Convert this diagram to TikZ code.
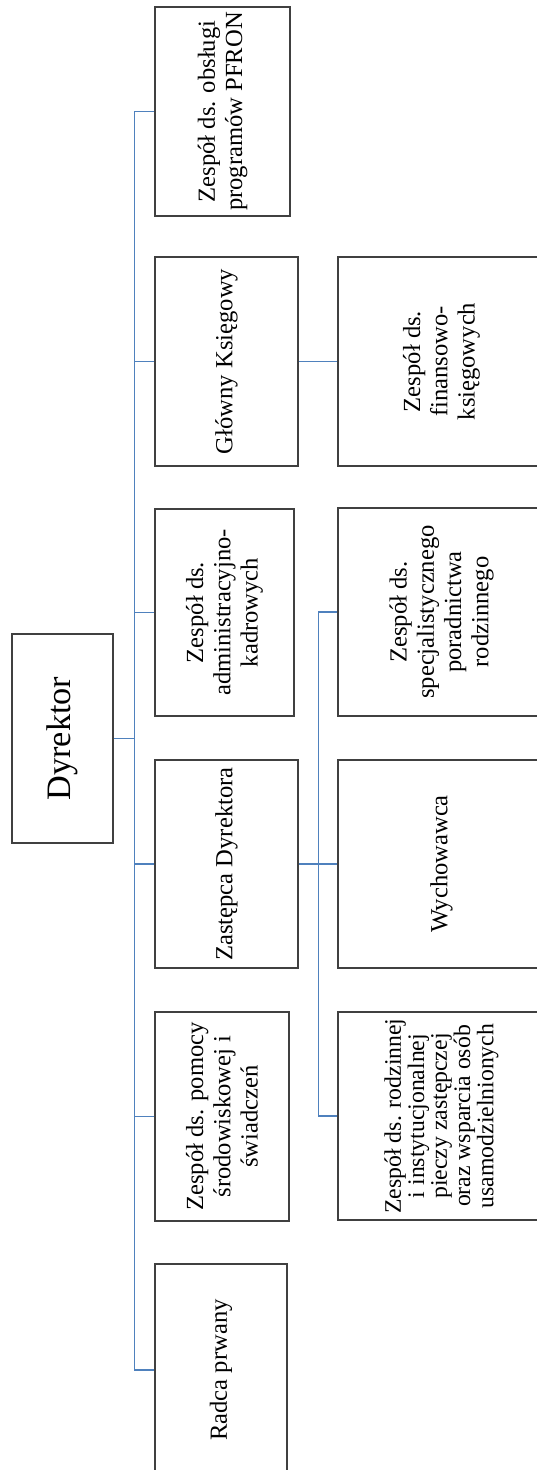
\documentclass[tikz,border=0pt]{standalone}
\usepackage{fontspec}
\setmainfont{Liberation Serif}
\usepackage{xcolor}
\definecolor{linkblue}{RGB}{79,129,189}

\begin{document}
\begin{tikzpicture}[x=0.02cm, y=-0.02cm]
    \tikzset{
      unit/.style={draw=black!75, line width=0.8pt, rotate=90, inner sep=0pt,
        align=center, font=\fontsize{14}{15.5}\selectfont},
      link/.style={draw=linkblue, line width=0.6pt}
    }

    % Page frame
    \useasboundingbox (0, 0) rectangle (537, 1470);
    \clip (0, 0) rectangle (537, 1470);

    % Head of the unit
    \node[unit, minimum width=4.18cm, minimum height=2.02cm,
      font=\fontsize{19.5}{22}\selectfont] (dyr) at (62.5, 738.5) {Dyrektor};

    % First level
    \node[unit, minimum width=4.18cm, minimum height=2.7cm] (pfron) at (222.5, 111.5)
      {Zespół ds. obsługi\\programów PFRON};
    \node[unit, minimum width=4.18cm, minimum height=2.86cm] (gk) at (226.5, 361.5)
      {Główny Księgowy};
    \node[unit, minimum width=4.14cm, minimum height=2.78cm] (adm) at (224.5, 612.5)
      {Zespół ds.\\administracyjno-\\kadrowych};
    \node[unit, minimum width=4.16cm, minimum height=2.86cm] (zast) at (226.5, 864)
      {Zastępca Dyrektora};
    \node[unit, minimum width=4.18cm, minimum height=2.68cm] (pom) at (222, 1116.5)
      {Zespół ds. pomocy\\środowiskowej i\\świadczeń};
    \node[unit, minimum width=4.24cm, minimum height=2.64cm] (radca) at (221, 1370)
      {Radca prwany};

    % Second level
    \node[unit, minimum width=4.18cm, minimum height=4.14cm] (fin) at (441.5, 361.5)
      {Zespół ds.\\finansowo-\\księgowych};
    \node[unit, minimum width=4.16cm, minimum height=4.14cm] (spec) at (441.5, 612)
      {Zespół ds.\\specjalistycznego\\poradnictwa\\rodzinnego};
    \node[unit, minimum width=4.16cm, minimum height=4.14cm] (wych) at (441.5, 864)
      {Wychowawca};
    \node[unit, minimum width=4.16cm, minimum height=4.14cm,
      font=\fontsize{13.5}{11.5}\selectfont] (rodz) at (441.5, 1116)
      {Zespół ds. rodzinnej\\i instytucjonalnej\\pieczy zastępczej\\oraz wsparcia osób\\usamodzielnionych};

    % Main spine
    \draw[link] (pfron.north) -- ++(-20, 0) coordinate (top) |- (radca.north);
    \draw[link] (dyr.south) -- (dyr.south -| top);
    \draw[link] (gk.north) -- (gk.north -| top);
    \draw[link] (adm.north) -- (adm.north -| top);
    \draw[link] (zast.north) -- (zast.north -| top);
    \draw[link] (pom.north) -- (pom.north -| top);

    % Branches of the second level
    \draw[link] (gk.south) -- (fin.north);
    \draw[link] (spec.north) -- ++(-19, 0) coordinate (sub) |- (rodz.north);
    \draw[link] (zast.south) -- (wych.north);
\end{tikzpicture}
\end{document}
